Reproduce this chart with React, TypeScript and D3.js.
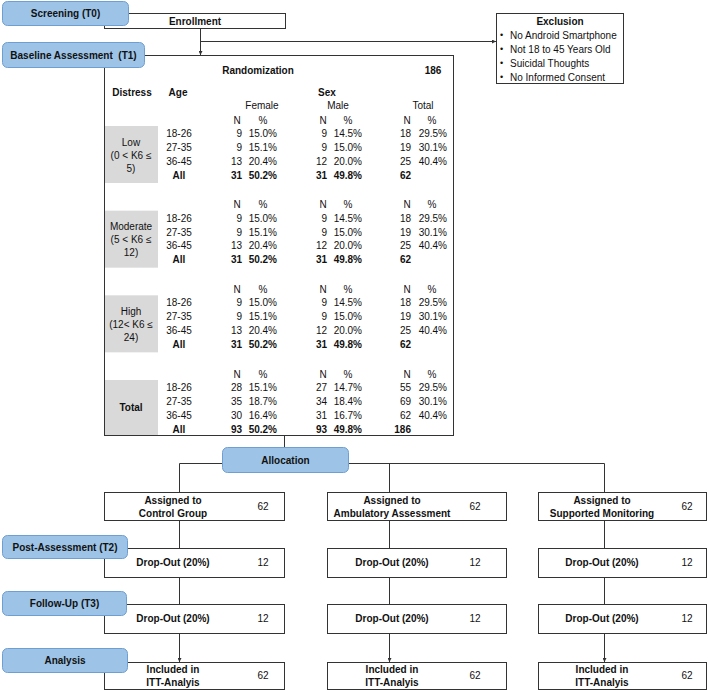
import React from "react";
import * as d3 from "d3";

const distressLabels: string[][] = [
  ["Low", "(0 < K6 ≤", "5)"],
  ["Moderate", "(5 < K6 ≤", "12)"],
  ["High", "(12< K6 ≤", "24)"],
  ["Total"],
];
const ages = ["18-26", "27-35", "36-45", "All"];
const femaleN = [
  [9, 9, 13, 31],
  [9, 9, 13, 31],
  [9, 9, 13, 31],
  [28, 35, 30, 93],
];
const femalePct = [
  ["15.0%", "15.1%", "20.4%", "50.2%"],
  ["15.0%", "15.1%", "20.4%", "50.2%"],
  ["15.0%", "15.1%", "20.4%", "50.2%"],
  ["15.1%", "18.7%", "16.4%", "50.2%"],
];
const maleN = [
  [9, 9, 12, 31],
  [9, 9, 12, 31],
  [9, 9, 12, 31],
  [27, 34, 31, 93],
];
const malePct = [
  ["14.5%", "15.0%", "20.0%", "49.8%"],
  ["14.5%", "15.0%", "20.0%", "49.8%"],
  ["14.5%", "15.0%", "20.0%", "49.8%"],
  ["14.7%", "18.4%", "16.7%", "49.8%"],
];
const totalN = [
  [18, 19, 25, 62],
  [18, 19, 25, 62],
  [18, 19, 25, 62],
  [55, 69, 62, 186],
];
const totalPct = [
  ["29.5%", "30.1%", "40.4%", ""],
  ["29.5%", "30.1%", "40.4%", ""],
  ["29.5%", "30.1%", "40.4%", ""],
  ["29.5%", "30.1%", "40.4%", ""],
];
const randomizationN = 186;
const exclusions = [
  "No Android Smartphone",
  "Not 18 to 45 Years Old",
  "Suicidal Thoughts",
  "No Informed Consent",
];
const arms = [
  ["Assigned to", "Control Group"],
  ["Assigned to", "Ambulatory Assessment"],
  ["Assigned to", "Supported Monitoring"],
];
const assignedN = [62, 62, 62];
const dropout1N = [12, 12, 12];
const dropout2N = [12, 12, 12];
const includedN = [62, 62, 62];
const stageLabels = [
  "Screening (T0)",
  "Baseline Assessment  (T1)",
  "Allocation",
  "Post-Assessment (T2)",
  "Follow-Up (T3)",
  "Analysis",
];

const FONT = "'Liberation Sans', Arial, Helvetica, sans-serif";
const PILL_FILL = "#9dc3e6";
const PILL_STROKE = "#6f9fd2";
const LINE = "#333";

function Pill({ x, y, w, h, label }: any) {
  return (
    <g>
      <rect x={x} y={y} width={w} height={h} rx={5} ry={5} fill={PILL_FILL} stroke={PILL_STROKE} strokeWidth={1} />
      <text
        x={x + w / 2}
        y={y + h / 2}
        dy="0.35em"
        textAnchor="middle"
        fontWeight="bold"
        fontSize={10}
        style={{ whiteSpace: "pre" }}
      >
        {label}
      </text>
    </g>
  );
}

export default function App() {
  const W = 708;
  const H = 690;
  // table scales
  const blockY = d3.scaleLinear().domain([0, 3]).range([120, 374]);
  const rowY = d3.scaleLinear().domain([0, 3]).range([13.5, 55]);
  const colNRight = [242, 327, 411];
  const colPctRight = [277, 362, 447];
  const colNHead = [237, 323, 407];
  const colPctHead = [263, 348, 432];
  const groupHead = ["Female", "Male", "Total"];
  const groupHeadX = [262, 338, 423];

  // arm columns
  const armX0 = [104, 327, 538];
  const armX1 = [284, 506, 706];
  const armLineX = [179, 389, 604];
  const armTextX = [173, 392, 602];
  const armNumX = [263, 475, 687];
  const rowsTop = [492, 548, 604, 662];
  const rowsBot = [520, 577, 633, 689];

  const nums = [femaleN, maleN, totalN];
  const pcts = [femalePct, malePct, totalPct];

  return (
    <svg
      width={W}
      height={H}
      style={{ position: "absolute", left: 0, top: 0, background: "#fff" }}
      fontFamily={FONT}
      fontSize={10}
      fill="#111"
    >
      <defs>
        <marker id="arr" viewBox="0 0 10 10" refX={10} refY={5} markerWidth={4} markerHeight={4} orient="auto">
          <path d="M0,0 L10,5 L0,10 z" fill={LINE} />
        </marker>
      </defs>
      <rect x={0} y={0} width={W} height={H} fill="#fff" />

      {/* Enrollment box */}
      <rect x={104.5} y={13.5} width={181} height={15} fill="#fff" stroke={LINE} />
      <text x={195} y={21} dy="0.35em" textAnchor="middle" fontWeight="bold">Enrollment</text>
      {/* connectors */}
      <line x1={200.5} y1={28.5} x2={200.5} y2={55} stroke={LINE} markerEnd="url(#arr)" />
      <line x1={200.5} y1={41.5} x2={496} y2={41.5} stroke={LINE} markerEnd="url(#arr)" />

      {/* Exclusion box */}
      <rect x={496.5} y={13.5} width={127} height={70} fill="#fff" stroke={LINE} />
      <text x={560} y={21} dy="0.35em" textAnchor="middle" fontWeight="bold">Exclusion</text>
      {exclusions.map((t, i) => (
        <g key={t}>
          <text x={500} y={35 + i * 14} dy="0.35em" fontSize={9}>•</text>
          <text x={510} y={35 + i * 14} dy="0.35em">{t}</text>
        </g>
      ))}

      {/* Main table box */}
      <rect x={104.5} y={55.5} width={349} height={380} fill="#fff" stroke={LINE} />
      <text x={258} y={70} dy="0.35em" textAnchor="middle" fontWeight="bold">Randomization</text>
      <text x={433} y={70} dy="0.35em" textAnchor="middle" fontWeight="bold">{randomizationN}</text>
      <text x={132} y={92} dy="0.35em" textAnchor="middle" fontWeight="bold">Distress</text>
      <text x={178} y={92} dy="0.35em" textAnchor="middle" fontWeight="bold">Age</text>
      <text x={327} y={92} dy="0.35em" textAnchor="middle" fontWeight="bold">Sex</text>
      {groupHead.map((g, i) => (
        <text key={g} x={groupHeadX[i]} y={105} dy="0.35em" textAnchor="middle">{g}</text>
      ))}

      {distressLabels.map((lab, b) => {
        const by = blockY(b);
        const grayTop = by + 6;
        const grayH = b === 3 ? 435 - grayTop : 57;
        return (
          <g key={b}>
            {colNHead.map((x, i) => (
              <text key={"n" + i} x={x} y={by} dy="0.35em" textAnchor="middle">N</text>
            ))}
            {colPctHead.map((x, i) => (
              <text key={"p" + i} x={x} y={by} dy="0.35em" textAnchor="middle">%</text>
            ))}
            <rect x={105} y={grayTop} width={53} height={grayH} fill="#d9d9d9" />
            {lab.length === 1 ? (
              <text x={131} y={grayTop + grayH / 2} dy="0.35em" textAnchor="middle" fontWeight="bold">{lab[0]}</text>
            ) : (
              lab.map((l, k) => (
                <text key={k} x={131} y={grayTop + 16 + k * 13} dy="0.35em" textAnchor="middle">{l}</text>
              ))
            )}
            {ages.map((a, r) => {
              const y = by + rowY(r);
              const bold = r === 3 ? "bold" : "normal";
              return (
                <g key={a} fontWeight={bold}>
                  <text x={179} y={y} dy="0.35em" textAnchor="middle">{a}</text>
                  {nums.map((arr, c) => (
                    <text key={"v" + c} x={colNRight[c]} y={y} dy="0.35em" textAnchor="end">{arr[b][r]}</text>
                  ))}
                  {pcts.map((arr, c) => (
                    <text key={"q" + c} x={colPctRight[c]} y={y} dy="0.35em" textAnchor="end">{arr[b][r]}</text>
                  ))}
                </g>
              );
            })}
          </g>
        );
      })}

      {/* table to allocation */}
      <line x1={284.5} y1={435.5} x2={284.5} y2={447} stroke={LINE} />
      <line x1={armLineX[0] + 0.5} y1={463.5} x2={armLineX[2] + 0.5} y2={463.5} stroke={LINE} />
      {armLineX.map((x, i) => (
        <line key={i} x1={x + 0.5} y1={463.5} x2={x + 0.5} y2={rowsTop[0]} stroke={LINE} />
      ))}

      {/* arm columns */}
      {arms.map((arm, i) => (
        <g key={i}>
          <line x1={armLineX[i] + 0.5} y1={rowsBot[0]} x2={armLineX[i] + 0.5} y2={rowsTop[1]} stroke={LINE} />
          <line x1={armLineX[i] + 0.5} y1={rowsBot[1]} x2={armLineX[i] + 0.5} y2={rowsTop[2]} stroke={LINE} />
          <line x1={armLineX[i] + 0.5} y1={rowsBot[2]} x2={armLineX[i] + 0.5} y2={rowsTop[3]} stroke={LINE} markerEnd="url(#arr)" />
          {rowsTop.map((t, r) => (
            <rect key={r} x={armX0[i] + 0.5} y={t + 0.5} width={armX1[i] - armX0[i]} height={rowsBot[r] - t} fill="#fff" stroke={LINE} />
          ))}
          {/* assigned */}
          <text x={armTextX[i]} y={500} dy="0.35em" textAnchor="middle" fontWeight="bold">{arm[0]}</text>
          <text x={armTextX[i]} y={513} dy="0.35em" textAnchor="middle" fontWeight="bold">{arm[1]}</text>
          <text x={armNumX[i]} y={506} dy="0.35em" textAnchor="middle">{assignedN[i]}</text>
          {/* dropout 1 */}
          <text x={armTextX[i]} y={562.5} dy="0.35em" textAnchor="middle" fontWeight="bold">Drop-Out (20%)</text>
          <text x={armNumX[i]} y={562.5} dy="0.35em" textAnchor="middle">{dropout1N[i]}</text>
          {/* dropout 2 */}
          <text x={armTextX[i]} y={618.5} dy="0.35em" textAnchor="middle" fontWeight="bold">Drop-Out (20%)</text>
          <text x={armNumX[i]} y={618.5} dy="0.35em" textAnchor="middle">{dropout2N[i]}</text>
          {/* included */}
          <text x={armTextX[i]} y={669} dy="0.35em" textAnchor="middle" fontWeight="bold">Included in</text>
          <text x={armTextX[i]} y={682} dy="0.35em" textAnchor="middle" fontWeight="bold">ITT-Analyis</text>
          <text x={armNumX[i]} y={675.5} dy="0.35em" textAnchor="middle">{includedN[i]}</text>
        </g>
      ))}

      {/* stage pills */}
      <Pill x={2.5} y={1.5} w={126} h={24} label={stageLabels[0]} />
      <Pill x={2.5} y={42.5} w={142} h={25} label={stageLabels[1]} />
      <Pill x={222.5} y={447.5} w={126} h={25} label={stageLabels[2]} />
      <Pill x={2.5} y={535.5} w={125} h={23} label={stageLabels[3]} />
      <Pill x={2.5} y={591.5} w={124} h={24} label={stageLabels[4]} />
      <Pill x={2.5} y={648.5} w={125} h={24} label={stageLabels[5]} />
    </svg>
  );
}
